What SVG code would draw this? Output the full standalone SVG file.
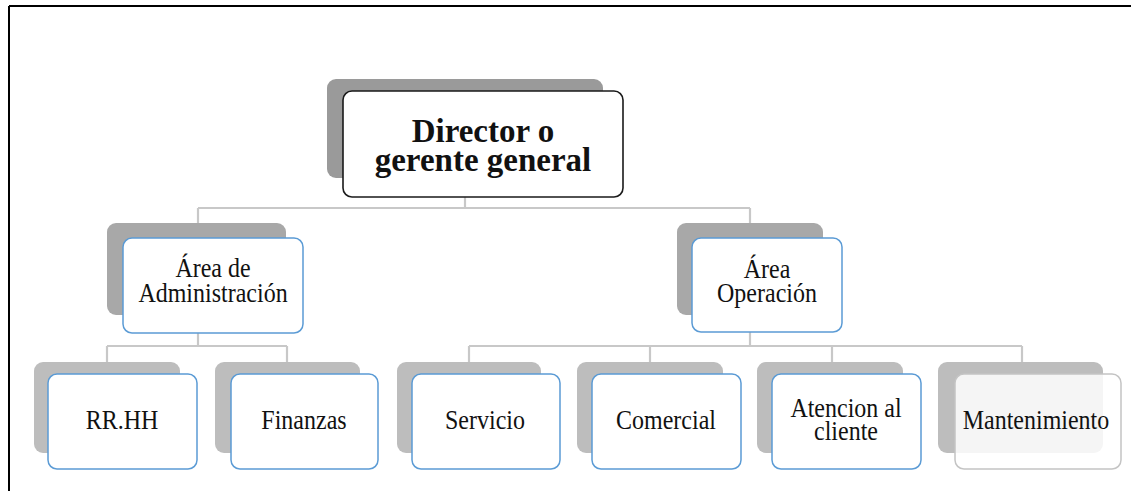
<svg xmlns="http://www.w3.org/2000/svg" width="1131" height="491" viewBox="0 0 1131 491">
  <style>
    .frame { stroke: #000; stroke-width: 2; fill: none; }
    .link { stroke: #c8c8c8; stroke-width: 2.2; fill: none; }
    .sh1 { fill: #9a9a9a; }
    .sh2 { fill: #a8a8a8; }
    .sh3 { fill: #bdbdbd; }
    .top { fill: #fff; stroke: #1a1a1a; stroke-width: 1.6; }
    .box { fill: #fff; stroke: #5b9bd5; stroke-width: 1.5; }
    .soft { fill: #fff; fill-opacity: 0.85; stroke: #c4c4c4; stroke-width: 1.5; }
    .t1 { font-family: "Liberation Serif", "Times New Roman", serif; font-weight: bold; font-size: 33px; fill: #111; text-anchor: middle; }
    .t2 { font-family: "Liberation Serif", "Times New Roman", serif; font-size: 24px; fill: #111; text-anchor: middle; }
  </style>

  <!-- page frame: top and left rule -->
  <path class="frame" d="M9 6 H1131 M9 6 V491"/>

  <g id="connectors">
    <path class="link" d="M465 197 V208 M198 208 H750 M198 208 V224 M750 208 V224"/>
    <path class="link" d="M198 333 V346 M107 346 H287 M107 346 V362 M287 346 V362"/>
    <path class="link" d="M750 332 V346 M469 346 H1022 M469 346 V362 M650 346 V362 M832 346 V362 M1022 346 V362"/>
  </g>

  <g id="director">
    <rect class="sh1" x="327" y="79" width="276" height="99" rx="9"/>
    <rect class="top" x="343" y="91" width="280" height="106" rx="9"/>
    <text class="t1" x="483" y="142">Director o</text>
    <text class="t1" x="483" y="171">gerente general</text>
  </g>

  <g id="area-administracion">
    <rect class="sh2" x="107" y="223" width="179" height="92" rx="9"/>
    <rect class="box" x="123" y="238" width="180" height="95" rx="9"/>
    <text class="t2" transform="translate(213 277) scale(1 1.12)">Área de</text>
    <text class="t2" transform="translate(213 302) scale(1 1.12)">Administración</text>
  </g>

  <g id="area-operacion">
    <rect class="sh2" x="677" y="223" width="146" height="92" rx="9"/>
    <rect class="box" x="692" y="238" width="150" height="94" rx="9"/>
    <text class="t2" transform="translate(767 278) scale(1 1.12)">Área</text>
    <text class="t2" transform="translate(767 302) scale(1 1.12)">Operación</text>
  </g>

  <g id="rrhh">
    <rect class="sh3" x="34" y="362" width="146" height="91" rx="9"/>
    <rect class="box" x="48" y="374" width="149" height="95" rx="9"/>
    <text class="t2" transform="translate(122 429) scale(1 1.12)">RR.HH</text>
  </g>

  <g id="finanzas">
    <rect class="sh3" x="215" y="362" width="145" height="91" rx="9"/>
    <rect class="box" x="231" y="374" width="147" height="95" rx="9"/>
    <text class="t2" transform="translate(304 429) scale(1 1.12)">Finanzas</text>
  </g>

  <g id="servicio">
    <rect class="sh3" x="397" y="362" width="144" height="91" rx="9"/>
    <rect class="box" x="412" y="374" width="148" height="95" rx="9"/>
    <text class="t2" transform="translate(485 429) scale(1 1.12)">Servicio</text>
  </g>

  <g id="comercial">
    <rect class="sh3" x="577" y="362" width="146" height="91" rx="9"/>
    <rect class="box" x="592" y="374" width="149" height="95" rx="9"/>
    <text class="t2" transform="translate(666 429) scale(1 1.12)">Comercial</text>
  </g>

  <g id="atencion">
    <rect class="sh3" x="757" y="362" width="146" height="91" rx="9"/>
    <rect class="box" x="772" y="374" width="149" height="95" rx="9"/>
    <text class="t2" transform="translate(846 417) scale(1 1.12)">Atencion al</text>
    <text class="t2" transform="translate(846 440) scale(1 1.12)">cliente</text>
  </g>

  <g id="mantenimiento">
    <rect class="sh3" x="938" y="362" width="165" height="91" rx="9"/>
    <rect class="soft" x="955" y="374" width="166" height="95" rx="9"/>
    <text class="t2" transform="translate(1036 429) scale(1 1.12)">Mantenimiento</text>
  </g>
</svg>
